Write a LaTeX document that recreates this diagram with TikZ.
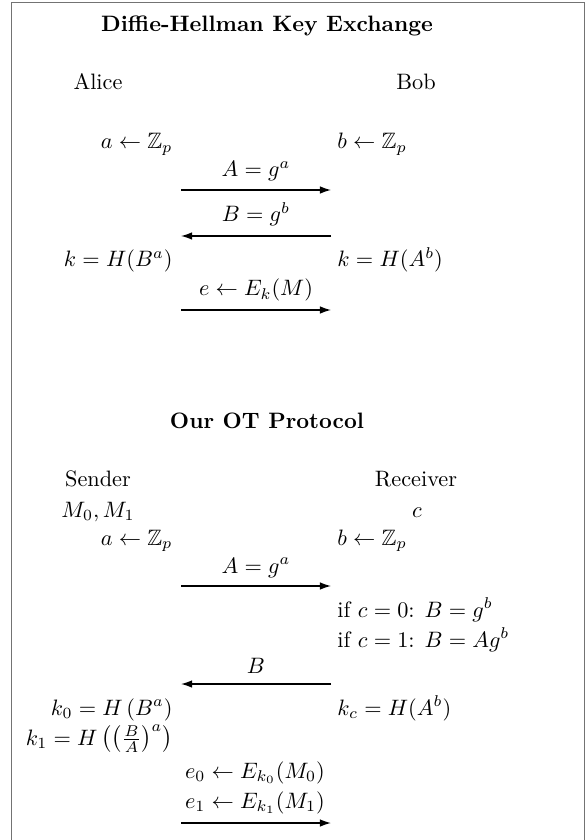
\documentclass[tikz,border=0pt]{standalone}
\usepackage{amsmath,amssymb}
\usetikzlibrary{arrows.meta}
\begin{document}
\begin{tikzpicture}[x=0.4484pt,y=-0.4484pt,
  lbl/.style={inner sep=0pt,anchor=base east},
  rbl/.style={inner sep=0pt,anchor=base west},
  cbl/.style={inner sep=0pt,anchor=base},
  title/.style={inner sep=0pt,anchor=base,font=\bfseries},
  msg/.style={line width=0.6pt,-{Latex[length=5pt,width=3.4pt]}},
  frame/.style={draw=black!55,line width=0.7pt}]
\useasboundingbox (0,0) rectangle (586,840);
\draw[frame] (11.5,2.5) -- (584.5,2.5) -- (584.5,850) (11.5,2.5) -- (11.5,850);
% Diffie-Hellman
\node[title] (t1) at (267,32) {Diffie-Hellman Key Exchange};
\node[cbl] (alice) at (98,90) {Alice};
\node[cbl] (bob) at (416,90) {Bob};
\node[lbl] (a1) at (173,149) {$a \leftarrow \mathbb{Z}_p$};
\node[rbl] (b1) at (337,149) {$b \leftarrow \mathbb{Z}_p$};
\node[cbl] (m1) at (256,177) {$A = g^a$};
\coordinate (l1) at (181,190); \coordinate (r1) at (331,190);
\draw[msg] (l1) -- (r1);
\node[cbl] (m2) at (256,222) {$B = g^b$};
\coordinate (l2) at (181,236); \coordinate (r2) at (331,236);
\draw[msg] (r2) -- (l2);
\node[lbl] (ka) at (173,267) {$k = H(B^a)$};
\node[rbl] (kb) at (337,267) {$k = H(A^b)$};
\node[cbl] (m3) at (256,296) {$e \leftarrow E_k(M)$};
\coordinate (l3) at (181,310); \coordinate (r3) at (331,310);
\draw[msg] (l3) -- (r3);
% OT
\node[title] (t2) at (267,428) {Our OT Protocol};
\node[cbl] (sender) at (98,486) {Sender};
\node[cbl] (receiver) at (416,486) {Receiver};
\node[cbl] (mm) at (98,517) {$M_0, M_1$};
\node[cbl] (cc) at (417,517) {$c$};
\node[lbl] (a2) at (173,545) {$a \leftarrow \mathbb{Z}_p$};
\node[rbl] (b2) at (337,545) {$b \leftarrow \mathbb{Z}_p$};
\node[cbl] (m4) at (256,573) {$A = g^a$};
\coordinate (l4) at (181,586); \coordinate (r4) at (331,586);
\draw[msg] (l4) -- (r4);
\node[rbl] (if0) at (337,617) {if $c = 0$: $B = g^b$};
\node[rbl] (if1) at (337,647) {if $c = 1$: $B = Ag^b$};
\node[cbl] (m5) at (256,673) {$B$};
\coordinate (l5) at (181,684); \coordinate (r5) at (331,684);
\draw[msg] (r5) -- (l5);
\node[lbl] (k0) at (173,715) {$k_0 = H\left(B^a\right)$};
\node[rbl] (kc) at (337,715) {$k_c = H(A^b)$};
\node[lbl] (k1) at (173,745) {$k_1 = H\mathinner{\bigl(\bigl(\frac{B}{A}\bigr)^a\bigr)}$};
\node[cbl] (e0) at (255,778) {$e_0 \leftarrow E_{k_0}(M_0)$};
\node[cbl] (e1) at (255,808) {$e_1 \leftarrow E_{k_1}(M_1)$};
\coordinate (l6) at (181,823); \coordinate (r6) at (331,823);
\draw[msg] (l6) -- (r6);
\end{tikzpicture}
\end{document}
